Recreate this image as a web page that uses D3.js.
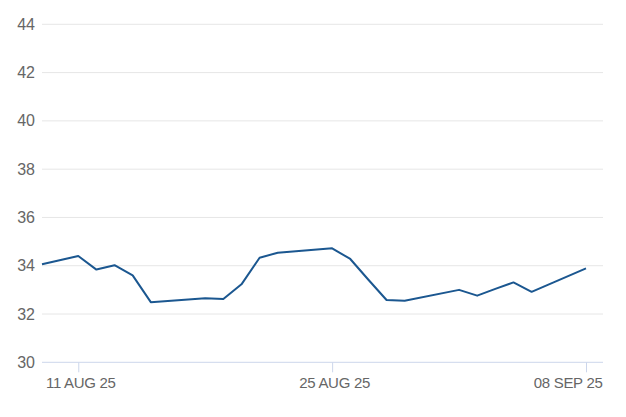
<!DOCTYPE html>
<html>
<head>
<meta charset="utf-8">
<script src="https://cdn.jsdelivr.net/npm/d3@7"></script>
<style>
  html, body { margin: 0; padding: 0; background: #fff; }
  svg { display: block; }
</style>
</head>
<body>
<svg id="chart" width="626" height="417"></svg>
<script>
const dates = ["2025-08-09","2025-08-11","2025-08-12","2025-08-13","2025-08-14","2025-08-15",
  "2025-08-18","2025-08-19","2025-08-20","2025-08-21","2025-08-22",
  "2025-08-25","2025-08-26","2025-08-27","2025-08-28","2025-08-29",
  "2025-09-01","2025-09-02","2025-09-03","2025-09-04","2025-09-05","2025-09-08"];
const values = [34.06,34.40,33.84,34.02,33.60,32.49,
  32.65,32.62,33.23,34.33,34.54,
  34.72,34.28,33.42,32.58,32.55,
  33.00,32.76,33.04,33.31,32.92,33.89];
const yTicks = [30,32,34,36,38,40,42,44];
const xTickDates = ["2025-08-11","2025-08-25","2025-09-08"];
const xTickLabels = ["11 AUG 25","25 AUG 25","08 SEP 25"];

const parse = d3.utcParse("%Y-%m-%d");
const data = dates.map((d,i) => ({date: parse(d), value: values[i]}));

const svg = d3.select("#chart");
const mLeft = 42, mRight = 603, mTop = 24.3, mBottom = 362.3;

const x = d3.scaleUtc()
  .domain([data[0].date, data[data.length-1].date])
  .range([mLeft, 586]);
const y = d3.scaleLinear().domain([30, 44]).range([mBottom, mTop]);

// gridlines
svg.append("g").selectAll("line")
  .data(yTicks.filter(t => t !== 30))
  .join("line")
  .attr("x1", mLeft).attr("x2", mRight)
  .attr("y1", d => y(d)).attr("y2", d => y(d))
  .attr("stroke", "#e6e6e6").attr("stroke-width", 1);

// y labels
const yAxis = d3.axisLeft(y).tickValues(yTicks).tickSize(0).tickPadding(0);
const gy = svg.append("g").attr("transform", `translate(35,0)`).call(yAxis);
gy.select(".domain").remove();
gy.selectAll("text")
  .attr("fill", "#666")
  .style("font-family", "'Liberation Sans', Arial, sans-serif")
  .style("font-size", "16px");

// x axis line
svg.append("line")
  .attr("x1", mLeft).attr("x2", mRight)
  .attr("y1", mBottom).attr("y2", mBottom)
  .attr("stroke", "#ccd6eb").attr("stroke-width", 1);

const xTicks = xTickDates.map(parse);
const xAxis = d3.axisBottom(x).tickValues(xTicks)
  .tickSize(10).tickPadding(5)
  .tickFormat((d,i) => xTickLabels[i]);
const gx = svg.append("g").attr("transform", `translate(0,${mBottom})`).call(xAxis);
gx.select(".domain").remove();
gx.selectAll(".tick line").attr("stroke", "#ccd6eb");
gx.selectAll("text")
  .attr("fill", "#666")
  .style("font-family", "'Liberation Sans', Arial, sans-serif")
  .style("font-size", "15px")
  .style("letter-spacing", "-0.3px")
  .attr("text-anchor", (d,i) => i === xTicks.length - 1 ? "end" : "middle")
  .attr("dx", (d,i) => i === xTicks.length - 1 ? "16" : "2");

// line
const line = d3.line().x(d => x(d.date)).y(d => y(d.value));
svg.append("path")
  .datum(data)
  .attr("d", line)
  .attr("fill", "none")
  .attr("stroke", "#1b5790")
  .attr("stroke-width", 2)
  .attr("stroke-linejoin", "round");
</script>
</body>
</html>
